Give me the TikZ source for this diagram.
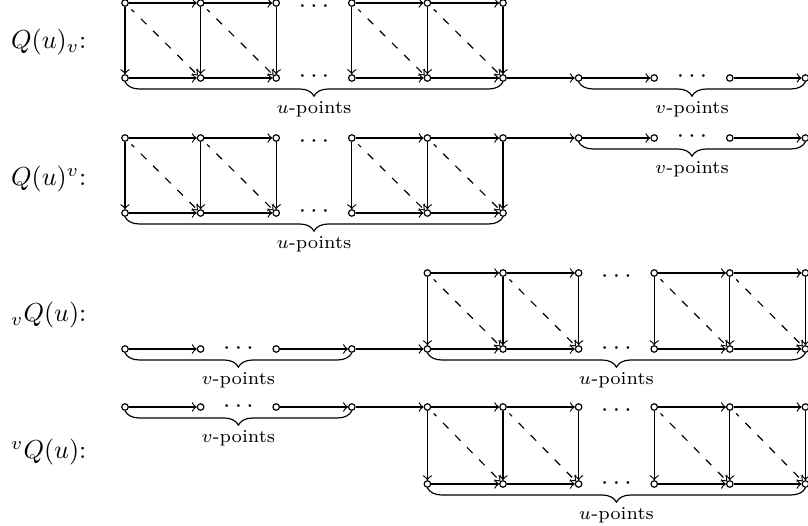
\documentclass[tikz,border=0pt]{standalone}
\usetikzlibrary{decorations.pathreplacing}
\tikzset{
  >=to,
  every path/.style={line width=0.45pt},
  pt/.style={circle,draw,fill=white,inner sep=0pt,minimum size=2.5pt},
  arr/.style={->},
  dia/.style={->,dash pattern=on 3pt off 3.6pt,dash phase=1.5pt,shorten <=2pt},
  brc/.style={decorate,decoration={brace,mirror,amplitude=5.5pt}},
  blab/.style={font=\scriptsize,inner sep=0pt,yshift=-10.4pt},
  rowlab/.style={anchor=east,inner sep=0pt},
  dotsnode/.style={inner sep=0pt,anchor=base}
}
% #1 prefix, #2 top y, #3 bottom y, #4 first column
\newcommand\mkgrid[4]{%
  \foreach \i in {0,...,5}{
    \pgfmathsetmacro\xx{125+75.6*(#4+\i)}
    \node[pt] (#1t\i) at (\xx,#2) {};
    \node[pt] (#1b\i) at (\xx,#3) {};
  }
  \foreach \i in {0,...,5}{\draw[arr] (#1t\i) -- (#1b\i);}
  \foreach \i/\j in {0/1,1/2,3/4,4/5}{
    \draw[arr] (#1t\i) -- (#1t\j);
    \draw[arr] (#1b\i) -- (#1b\j);
    \draw[dia] (#1t\i) -- (#1b\j);
  }
  \pgfmathsetmacro\xd{125+75.6*(#4+2.5)}
  \node[dotsnode] (#1dt) at (\xd,#2+9.5) {$\cdots$};
  \node[dotsnode] (#1db) at (\xd,#3+5) {$\cdots$};
}
% #1 prefix, #2 y, #3 first column
\newcommand\mkvrow[3]{%
  \foreach \i in {0,...,3}{
    \pgfmathsetmacro\xx{125+75.6*(#3+\i)}
    \node[pt] (#1v\i) at (\xx,#2) {};
  }
  \draw[arr] (#1v0) -- (#1v1);
  \draw[arr] (#1v2) -- (#1v3);
  \pgfmathsetmacro\xd{125+75.6*(#3+1.5)}
  \node[dotsnode] (#1dv) at (\xd,#2+5) {$\cdots$};
  \draw[brc] (#1v0.south) -- (#1v3.south) node[blab,midway] (#1vl) {$v$-points};
}
\newcommand\ubrace[1]{%
  \draw[brc] (#1b0.south) -- (#1b5.south) node[blab,midway] (#1ul) {$u$-points};
}
\begin{document}
\begin{tikzpicture}[x=0.3846pt,y=-0.3846pt]
\useasboundingbox (0,0) rectangle (808,526);

% row 1
\node[rowlab] (l1) at (87,42.5) {$Q(u)_v$:};
\mkgrid{a}{3}{78}{0}
\mkvrow{a}{78}{6}
\draw[arr] (ab5) -- (av0);
\ubrace{a}

% row 2
\node[rowlab] (l2) at (87,179) {$Q(u)^v$:};
\mkgrid{b}{138}{213}{0}
\mkvrow{b}{138}{6}
\draw[arr] (bt5) -- (bv0);
\ubrace{b}

% row 3
\node[rowlab] (l3) at (87,315.5) {${}_vQ(u)$:};
\mkvrow{c}{349}{0}
\mkgrid{c}{273}{349}{4}
\draw[arr] (cv3) -- (cb0);
\ubrace{c}

% row 4
\node[rowlab] (l4) at (87,452) {${}^vQ(u)$:};
\mkvrow{d}{407}{0}
\mkgrid{d}{407}{484}{4}
\draw[arr] (dv3) -- (dt0);
\ubrace{d}
\end{tikzpicture}
\end{document}
